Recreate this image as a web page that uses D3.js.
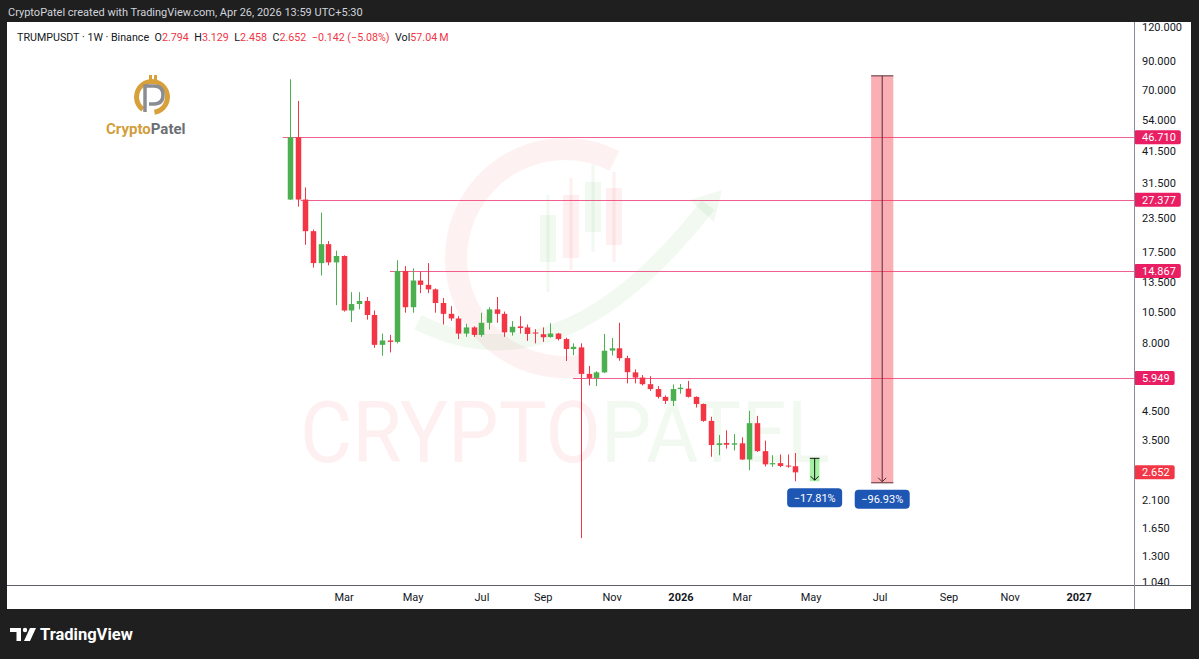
<!DOCTYPE html>
<html>
<head>
<meta charset="utf-8">
<script src="https://cdn.jsdelivr.net/npm/d3@7"></script>
<style>
  body { margin: 0; background: #1f1f1f; }
  svg { display: block; }
  text { font-family: Roboto, "Noto Sans", sans-serif; }
</style>
</head>
<body>
<svg id="chart" width="1199" height="659"></svg>
<script>
// weekly candles TRUMPUSDT, first bar week of 2025-01-13
var firstWeek = new Date(Date.UTC(2025, 0, 13));
var opens  = [27.4, 46.7, 27.4, 20.9, 15.9, 18.7, 16.0, 16.9, 10.6, 11.2, 11.5, 10.2, 7.9, 8.2, 8.1, 14.87, 10.9, 13.7, 13.2, 12.7,
              11.3, 10.3, 9.9, 8.7, 9.17, 8.6, 9.54, 10.7, 10.3, 8.79, 9.25, 9.17, 8.78, 8.65, 8.45, 8.7, 8.3, 7.62, 7.73, 6.16,
              5.95, 6.24, 7.52, 7.67, 7.05, 6.24, 5.97, 5.64, 5.41, 5.06, 4.89, 5.41, 5.43, 5.06, 4.76, 4.12, 3.35, 3.41, 3.36, 3.4,
              2.96, 4.04, 3.18, 2.84, 2.87, 2.81, 2.794];
var highs  = [76.7, 63.7, 30.4, 21.2, 24.5, 19.2, 17.7, 17.0, 12.4, 12.4, 11.9, 10.6, 8.7, 8.6, 16.3, 15.5, 15.2, 14.8, 15.9, 12.8,
              11.8, 11.0, 10.1, 9.45, 9.25, 10.4, 10.9, 11.9, 10.5, 9.68, 10.1, 9.4, 9.03, 9.17, 9.5, 8.75, 8.4, 8.0, 8.0, 6.59,
              6.3, 8.67, 8.37, 9.54, 7.2, 6.4, 6.1, 6.04, 5.55, 5.12, 5.63, 5.65, 5.8, 5.08, 4.78, 4.27, 3.65, 3.8, 3.68, 3.58,
              4.49, 4.3, 3.48, 3.07, 3.09, 3.09, 3.129];
var lows   = [27.3, 25.8, 18.6, 15.3, 14.3, 15.6, 11.1, 10.5, 9.6, 10.7, 9.8, 7.7, 7.2, 7.4, 8.0, 10.4, 10.4, 12.3, 12.3, 10.4,
              9.4, 9.7, 8.3, 8.46, 8.45, 8.46, 9.0, 9.54, 8.46, 8.55, 8.7, 8.17, 8.0, 8.1, 8.4, 8.2, 6.88, 7.23, 1.51, 5.58,
              5.55, 6.2, 7.21, 6.89, 5.68, 5.68, 5.58, 5.33, 4.99, 4.76, 4.68, 5.2, 5.03, 4.62, 4.09, 3.03, 3.07, 3.25, 3.2, 2.95,
              2.7, 3.16, 2.79, 2.78, 2.77, 2.76, 2.458];
var closes = [46.7, 27.4, 20.9, 15.9, 18.7, 16.0, 16.9, 10.6, 11.2, 11.5, 10.2, 7.9, 8.2, 8.1, 14.87, 10.9, 13.7, 13.2, 12.7, 11.3,
              10.3, 9.9, 8.7, 9.17, 8.6, 9.54, 10.7, 10.3, 8.79, 9.22, 9.12, 8.67, 8.7, 8.43, 8.7, 8.3, 7.62, 7.77, 6.16, 5.95,
              6.24, 7.51, 7.67, 7.05, 6.25, 5.97, 5.64, 5.41, 5.06, 4.89, 5.41, 5.47, 5.06, 4.76, 4.12, 3.35, 3.4, 3.36, 3.4, 2.96,
              4.04, 3.18, 2.84, 2.87, 2.80, 2.794, 2.652];
var lastVolume = "57.04";

var priceTicks = [120, 90, 70, 54, 41.5, 31.5, 23.5, 17.5, 13.5, 10.5, 8, 4.5, 3.5, 2.1, 1.65, 1.3, 1.04];

// horizontal levels and the bar index where each one starts
var levels = [46.71, 27.377, 14.867, 5.949];
var levelStart = [-0.95, 1.4, 13.06, 36.96];

// price range measurements (bar index from/to, top/bottom prices)
var rangeFrom   = [75.9, 67.9];
var rangeTo     = [78.8, 69.15];
var rangeTop    = [79.0, 2.9905];
var rangeBottom = [2.425, 2.458];
var rangeFill   = ["rgba(242,54,69,0.40)", "rgba(90,230,90,0.55)"];
var rangeLine   = ["#5b2a31", "#111"];

var red = "#f23645", green = "#4caf50", ink = "#131722", pink = "#e91e63";

var svg = d3.select("#chart");

// frame
svg.append("rect").attr("x", 7).attr("y", 22).attr("width", 1184).attr("height", 587).attr("fill", "#fff");
svg.append("text").attr("x", 8).attr("y", 16).attr("fill", "#d1d4dc").attr("font-size", 11)
  .text("CryptoPatel created with TradingView.com, Apr 26, 2026 13:59 UTC+5:30");

var x = d3.scaleUtc()
  .domain([firstWeek, new Date(Date.UTC(2027, 0, 4))])
  .range([290, 1078.6]);
var y = d3.scaleLog().domain([1.04, 120]).range([581.7, 27]);

var week = 7 * 864e5;
function barX(i) { return x(new Date(firstWeek.getTime() + i * week)); }

// ---- watermark ----
var wm = svg.append("g");
var arc = d3.arc().innerRadius(98).outerRadius(120).startAngle(Math.PI * 0.95).endAngle(Math.PI * 2.15);
wm.append("path").attr("d", arc()).attr("transform", "translate(565,258)")
  .attr("fill", "rgba(242,54,69,0.07)");
wm.append("path").attr("d", "M418,322 Q560,395 708,205").attr("fill", "none")
  .attr("stroke", "rgba(76,175,80,0.08)").attr("stroke-width", 16);
wm.append("path").attr("d", "M690,200 L722,190 L714,222 Z").attr("fill", "rgba(76,175,80,0.08)");
var wmCandles = [[548, 195, 215, 262, 292, 1], [571, 178, 195, 258, 270, 0], [593, 165, 182, 232, 252, 1], [614, 172, 188, 245, 262, 0]];
wmCandles.forEach(function (c) {
  var col = c[5] ? "rgba(76,175,80,0.08)" : "rgba(242,54,69,0.08)";
  wm.append("line").attr("x1", c[0]).attr("x2", c[0]).attr("y1", c[1]).attr("y2", c[4]).attr("stroke", col).attr("stroke-width", 3);
  wm.append("rect").attr("x", c[0] - 8).attr("y", c[2]).attr("width", 16).attr("height", c[3] - c[2]).attr("fill", col);
});
var wmText = wm.append("text").attr("x", 300).attr("y", 462).attr("font-size", 86)
  .attr("font-family", "Lato, sans-serif").attr("font-weight", 400)
  .attr("textLength", 530).attr("lengthAdjust", "spacingAndGlyphs");
wmText.append("tspan").attr("fill", "rgba(242,54,69,0.08)").text("CRYPTO");
wmText.append("tspan").attr("fill", "rgba(76,175,80,0.08)").text("PATEL");

// ---- top-left logo ----
var logo = svg.append("g");
var ring = d3.arc().innerRadius(13).outerRadius(18).startAngle(Math.PI * 1.2).endAngle(Math.PI * 2.95);
logo.append("path").attr("d", ring()).attr("transform", "translate(152,97)").attr("fill", "#d8a03a");
logo.append("path").attr("d", "M145,112 L145,86 L154,86 Q163,86 163,95 Q163,104 154,104 L149,104")
  .attr("fill", "none").attr("stroke", "#8a8d93").attr("stroke-width", 3.5);
logo.append("rect").attr("x", 149).attr("y", 75).attr("width", 3).attr("height", 6).attr("fill", "#d8a03a");
logo.append("rect").attr("x", 154).attr("y", 75).attr("width", 3).attr("height", 6).attr("fill", "#d8a03a");
var logoText = logo.append("text").attr("x", 106).attr("y", 134).attr("font-size", 15)
  .attr("font-family", "Lato, sans-serif").attr("font-weight", 700);
logoText.append("tspan").attr("fill", "#d29d3b").text("Crypto");
logoText.append("tspan").attr("fill", "#6c6f75").text("Patel");

// ---- levels ----
var lv = svg.append("g");
levels.forEach(function (v, i) {
  lv.append("line").attr("x1", barX(levelStart[i])).attr("x2", 1134)
    .attr("y1", Math.round(y(v)) + 0.5).attr("y2", Math.round(y(v)) + 0.5)
    .attr("stroke", pink).attr("stroke-opacity", 0.7).attr("stroke-width", 1);
});

// ---- candles ----
var bw = 5.5;
var candles = svg.append("g").selectAll("g").data(opens).enter().append("g");
candles.each(function (o, i) {
  var g = d3.select(this);
  var col = closes[i] >= o ? green : red;
  var cx = Math.round(barX(i)) + 0.5;
  g.append("line").attr("x1", cx).attr("x2", cx).attr("y1", y(highs[i])).attr("y2", y(lows[i]))
    .attr("stroke", col).attr("stroke-width", 1);
  var top = y(Math.max(o, closes[i])), bot = y(Math.min(o, closes[i]));
  g.append("rect").attr("x", cx - bw / 2).attr("y", top).attr("width", bw)
    .attr("height", Math.max(1, bot - top)).attr("fill", col);
});

// ---- price ranges ----
var fmtPct = d3.format(".2f");
rangeFrom.forEach(function (f, i) {
  var g = svg.append("g");
  var x0 = barX(f), x1 = barX(rangeTo[i]), xm = (x0 + x1) / 2;
  var yt = y(rangeTop[i]), yb = y(rangeBottom[i]);
  g.append("rect").attr("x", x0).attr("y", yt).attr("width", x1 - x0).attr("height", yb - yt)
    .attr("fill", rangeFill[i]);
  g.append("line").attr("x1", x0).attr("x2", x1).attr("y1", yt).attr("y2", yt).attr("stroke", rangeLine[i]);
  g.append("line").attr("x1", xm).attr("x2", xm).attr("y1", yt).attr("y2", yb - 1).attr("stroke", rangeLine[i]);
  g.append("path").attr("d", "M" + (xm - 4) + "," + (yb - 5) + " L" + xm + "," + (yb - 1) + " L" + (xm + 4) + "," + (yb - 5))
    .attr("fill", "none").attr("stroke", rangeLine[i]);
  if (i === 0) g.append("line").attr("x1", x0).attr("x2", x1).attr("y1", yb).attr("y2", yb).attr("stroke", rangeLine[i]);
  var pct = (rangeBottom[i] / rangeTop[i] - 1) * 100;
  var label = "\u2212" + fmtPct(Math.abs(pct)) + "%";
  g.append("rect").attr("x", xm - 27.5).attr("y", yb + 7).attr("width", 55).attr("height", 19).attr("rx", 4)
    .attr("fill", "#1e56b4");
  g.append("text").attr("x", xm).attr("y", yb + 20.5).attr("text-anchor", "middle")
    .attr("font-size", 11).attr("fill", "#fff").text(label);
});

// ---- price axis ----
var yAxis = svg.append("g").attr("transform", "translate(1134,0)")
  .call(d3.axisRight(y).tickValues(priceTicks).tickSize(0).tickPadding(8).tickFormat(d3.format(".3f")));
yAxis.select(".domain").remove();
yAxis.selectAll("text").attr("fill", ink).attr("font-size", 11).attr("font-family", "Roboto, sans-serif");

// badges
var badgeVals = levels.concat([closes[closes.length - 1]]);
var badgeCols = levels.map(function () { return pink; }).concat([red]);
badgeVals.forEach(function (v, i) {
  var g = svg.append("g");
  var r = g.append("rect").attr("x", 1134).attr("y", y(v) - 7).attr("height", 14).attr("rx", 2).attr("fill", badgeCols[i]);
  var t = g.append("text").attr("x", 1142).attr("y", y(v) + 4).attr("font-size", 11).attr("fill", "#fff")
    .text(d3.format(".3f")(v));
  r.attr("width", t.node().getComputedTextLength() + 13);
});

// ---- time axis ----
var months = d3.utcMonth.range(new Date(Date.UTC(2025, 2, 1)), new Date(Date.UTC(2027, 1, 1)), 2);
var tickDates = months.map(function (m) { return d3.utcMonday.ceil(m); });
svg.append("rect").attr("x", 7).attr("y", 585).attr("width", 1127).attr("height", 24).attr("fill", "#fff");
var xAxis = svg.append("g").attr("transform", "translate(0,593)")
  .call(d3.axisBottom(x).tickValues(tickDates).tickSize(0).tickPadding(0)
    .tickFormat(function (d, i) { return months[i].getUTCMonth() === 0 ? d3.utcFormat("%Y")(months[i]) : d3.utcFormat("%b")(months[i]); }));
xAxis.select(".domain").remove();
xAxis.selectAll("text").attr("fill", ink).attr("font-size", 11).attr("font-family", "Roboto, sans-serif")
  .attr("font-weight", function (d, i) { return months[i].getUTCMonth() === 0 ? 700 : 400; });

svg.append("line").attr("x1", 7).attr("x2", 1191).attr("y1", 585.5).attr("y2", 585.5).attr("stroke", "#5d606b");
svg.append("line").attr("x1", 1134.5).attr("x2", 1134.5).attr("y1", 22).attr("y2", 609).attr("stroke", "#8a8d96");

// ---- legend ----
var n = closes.length - 1;
var chg = closes[n] - closes[n - 1];
var f3 = d3.format(".3f");
var legend = svg.append("text").attr("x", 17).attr("y", 41).attr("font-size", 10.7).attr("fill", ink);
var parts = [
  ["TRUMPUSDT \u00b7 1W \u00b7 Binance", ink, 0], ["O", ink, 5.5], [f3(opens[n]), red, 0],
  ["H", ink, 5.5], [f3(highs[n]), red, 0], ["L", ink, 5.5], [f3(lows[n]), red, 0],
  ["C", ink, 5.5], [f3(closes[n]), red, 0],
  ["\u2212" + f3(Math.abs(chg)) + " (\u2212" + fmtPct(Math.abs(chg / closes[n - 1] * 100)) + "%)", red, 5.5],
  ["Vol", ink, 5.5], [lastVolume + "\u2009M", red, 0]
];
parts.forEach(function (p) { legend.append("tspan").attr("fill", p[1]).attr("dx", p[2]).text(p[0]); });

// ---- bottom logo ----
var tv = svg.append("g");
tv.append("path").attr("d", "M10,628 L21,628 L21,641 L16.5,641 L16.5,632 L10,632 Z").attr("fill", "#fff");
tv.append("circle").attr("cx", 25).attr("cy", 630).attr("r", 2.2).attr("fill", "#fff");
tv.append("path").attr("d", "M30,628 L36,628 L30,641 L24,641 Z").attr("fill", "#fff");
tv.append("text").attr("x", 40).attr("y", 640).attr("font-size", 16.5).attr("font-weight", 700)
  .attr("font-family", "Inter, sans-serif").attr("fill", "#fff").text("TradingView");
</script>
</body>
</html>
